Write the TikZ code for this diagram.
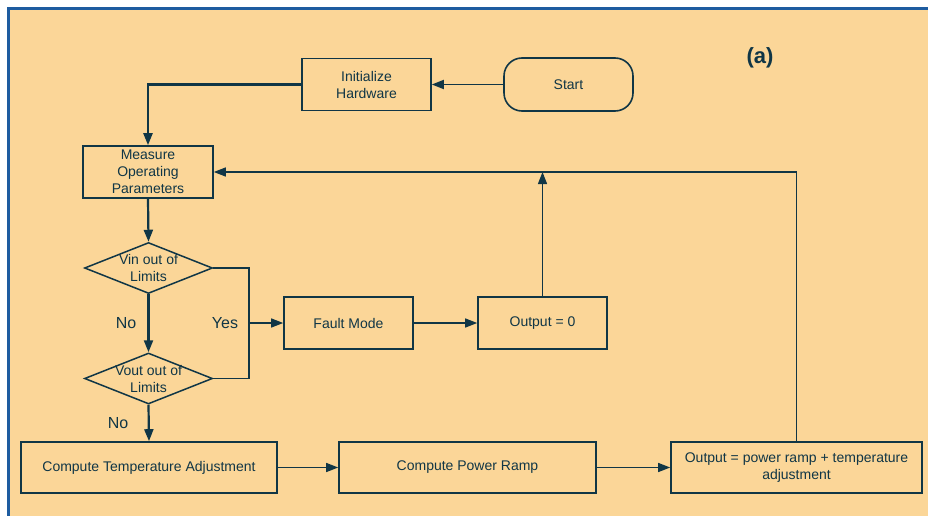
\documentclass[tikz,border=0pt]{standalone}
\usepackage{fontspec}
\setmainfont{Liberation Sans}
\usetikzlibrary{arrows.meta,shapes.geometric}

\definecolor{panel}{RGB}{251,214,152}
\definecolor{ink}{RGB}{16,54,70}
\definecolor{frame}{RGB}{30,92,160}

\tikzset{
  flowbox/.style={draw=ink, line width=1.6pt, fill=panel, rectangle, inner sep=0pt,
    align=center, text=ink, font=\fontsize{14}{17}\selectfont},
  startbox/.style={flowbox, rounded corners=18pt},
  decision/.style={draw=ink, line width=1.5pt, diamond, inner sep=0pt,
    minimum width=128pt, minimum height=51pt},
  dtext/.style={align=center, text=ink, font=\fontsize{14}{17}\selectfont, inner sep=0pt},
  branch/.style={text=ink, font=\fontsize{16}{19}\selectfont, inner sep=0pt},
  flow/.style={draw=ink, line width=1.3pt, -{Triangle[length=12pt,width=9pt]}},
  mainflow/.style={flow, line width=2.2pt},
  plain/.style={draw=ink, line width=1.3pt},
}

\begin{document}
\begin{tikzpicture}[x=1pt, y=-1pt]
  % page and panel
  \useasboundingbox (0,0) rectangle (928,516);
  \fill[white] (0,0) rectangle (928,516);
  \fill[panel] (8.5,8.5) rectangle (928,516);
  \draw[frame, line width=2.5pt] (8.5,516) -- (8.5,8.5) -- (928,8.5);

  \node[text=ink, font=\bfseries\fontsize{22}{26}\selectfont] (tag) at (760,58) {(a)};

  % process boxes
  \node[startbox, minimum width=129pt, minimum height=53pt] (start) at (568.5,84.5) {Start};
  \node[flowbox, minimum width=129pt, minimum height=52pt] (init) at (366.5,84.5) {Initialize\\Hardware};
  \node[flowbox, minimum width=130pt, minimum height=52pt] (measure) at (148,172) {Measure\\Operating\\Parameters};
  \node[flowbox, minimum width=129pt, minimum height=52pt] (fault) at (348.5,323) {Fault Mode};
  \node[flowbox, minimum width=129pt, minimum height=52pt] (out0) at (542.5,323) {Output = 0};
  \node[flowbox, minimum width=256pt, minimum height=51pt] (cta) at (149,467.5) {Compute Temperature Adjustment};
  \node[flowbox, minimum width=257pt, minimum height=51pt] (cpr) at (467.5,467.5) {Compute Power Ramp};
  \node[flowbox, minimum width=251pt, minimum height=51pt] (outp) at (796.5,467.5) {Output = power ramp + temperature\\adjustment};

  % decisions
  \node[decision] (vin) at (148.5,268) {};
  \node[dtext] (vintext) at (vin) {Vin out of\\Limits};
  \node[decision] (vout) at (148.5,378.5) {};
  \node[dtext] (vouttext) at (vout) {Vout out of\\Limits};

  % junctions
  \coordinate (jt) at (249,268);
  \coordinate (jb) at (249,378.5);
  \coordinate (jm) at (249,323);
  \coordinate (up) at (542.5,172);

  % connectors
  \draw[flow, line width=1.8pt] (start.west) -- (init.east);
  \draw[mainflow] (init.west) -| (measure.north);
  \draw[mainflow] (measure.south) -- (vin.north);
  \draw[mainflow] (vin.south) -- (vout.north);
  \draw[mainflow] (vout.south) -- (cta.north);
  \draw[plain] (vin.east) -- (jt) -- (jb) -- (vout.east);
  \draw[flow] (jm) -- (fault.west);
  \draw[flow] (fault.east) -- (out0.west);
  \draw[flow] (out0.north) -- (up);
  \draw[flow] (outp.north) |- (measure.east);
  \draw[flow] (cta.east) -- (cpr.west);
  \draw[flow] (cpr.east) -- (outp.west);

  % branch labels
  \node[branch] (no1) at (126,323) {No};
  \node[branch] (no2) at (118,423) {No};
  \node[branch] (yes) at (225,323) {Yes};
\end{tikzpicture}
\end{document}
